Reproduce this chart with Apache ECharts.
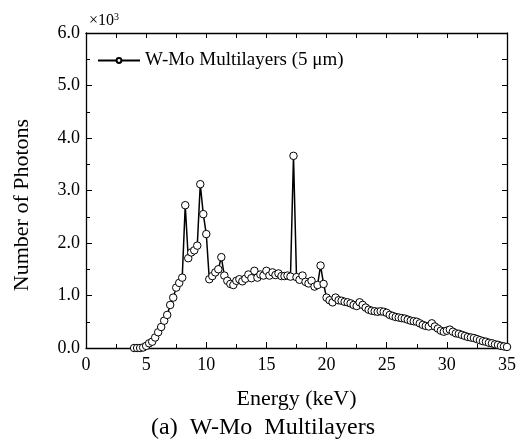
<!DOCTYPE html>
<html>
<head>
<meta charset="utf-8">
<script src="https://cdn.jsdelivr.net/npm/echarts@6/dist/echarts.min.js"></script>
<style>html,body{margin:0;padding:0;background:#fff}#c{width:526px;height:444px}</style>
</head>
<body>
<div id="c"></div>
<script>
// Energy grid (keV)
const energies = [4.0,4.25,4.5,4.75,5.0,5.25,5.5,5.75,6.0,6.25,6.5,6.75,7.0,7.25,7.5,7.75,8.0,8.25,8.5,8.75,9.0,9.25,9.5,9.75,10.0,10.25,10.5,10.75,11.0,11.25,11.5,11.75,12.0,12.25,12.5,12.75,13.0,13.25,13.5,13.75,14.0,14.25,14.5,14.75,15.0,15.25,15.5,15.75,16.0,16.25,16.5,16.75,17.0,17.25,17.5,17.75,18.0,18.25,18.5,18.75,19.0,19.25,19.5,19.75,20.0,20.25,20.5,20.75,21.0,21.25,21.5,21.75,22.0,22.25,22.5,22.75,23.0,23.25,23.5,23.75,24.0,24.25,24.5,24.75,25.0,25.25,25.5,25.75,26.0,26.25,26.5,26.75,27.0,27.25,27.5,27.75,28.0,28.25,28.5,28.75,29.0,29.25,29.5,29.75,30.0,30.25,30.5,30.75,31.0,31.25,31.5,31.75,32.0,32.25,32.5,32.75,33.0,33.25,33.5,33.75,34.0,34.25,34.5,34.75,35.0];
// Number of photons (x10^3)
const photons = [0.0,0.0,0.0,0.01,0.04,0.09,0.12,0.2,0.3,0.4,0.52,0.63,0.82,0.96,1.15,1.24,1.34,2.72,1.71,1.82,1.86,1.95,3.12,2.55,2.17,1.31,1.37,1.44,1.5,1.73,1.38,1.28,1.22,1.2,1.28,1.31,1.27,1.32,1.4,1.33,1.47,1.34,1.4,1.38,1.47,1.38,1.44,1.39,1.42,1.37,1.37,1.38,1.36,3.66,1.35,1.3,1.38,1.26,1.23,1.28,1.17,1.2,1.57,1.22,0.96,0.91,0.87,0.96,0.91,0.9,0.88,0.87,0.85,0.82,0.8,0.87,0.82,0.77,0.73,0.71,0.7,0.69,0.7,0.69,0.67,0.63,0.61,0.59,0.58,0.57,0.56,0.54,0.52,0.51,0.5,0.47,0.44,0.42,0.41,0.47,0.41,0.37,0.33,0.31,0.33,0.35,0.31,0.28,0.27,0.25,0.23,0.21,0.2,0.19,0.17,0.15,0.13,0.12,0.1,0.09,0.07,0.06,0.04,0.03,0.02];
const xTicks = [0,5,10,15,20,25,30,35];
const yTicks = [0,1,2,3,4,5,6];
const seriesName = 'W-Mo Multilayers (5 \u03bcm)';

const font = '"Liberation Serif", "Times New Roman", serif';
const chart = echarts.init(document.getElementById('c'), null, {renderer: 'canvas'});
const data = energies.map((e, i) => [e, photons[i]]);
const axisCommon = {
  axisLine: {show: true, onZero: false, lineStyle: {color: '#000', width: 1.3}},
  axisTick: {show: true, inside: true, length: 6, lineStyle: {color: '#000', width: 1}},
  minorTick: {show: true, splitNumber: 2, length: 4, lineStyle: {color: '#000', width: 1}},
  splitLine: {show: false}
};
chart.setOption({
  animation: false,
  backgroundColor: '#fff',
  title: [{
    text: '(a)  W-Mo  Multilayers',
    left: 'center', top: 411,
    textStyle: {fontFamily: font, fontSize: 24, fontWeight: 'normal', color: '#000'}
  }, {
    text: '\u00d710{s|3}',
    left: 84, top: 7,
    textStyle: {fontFamily: font, fontSize: 16, fontWeight: 'normal', color: '#000',
      rich: {s: {fontFamily: font, fontSize: 10, verticalAlign: 'top', padding: [0,0,8,0], color: '#000'}}}
  }],
  graphic: [{
    type: 'text', x: 22, y: 205, rotation: Math.PI / 2,
    style: {text: 'Number of Photons', fontFamily: font, fontSize: 22, fill: '#000',
      textAlign: 'center', textVerticalAlign: 'middle'}
  }],
  legend: {
    left: 92, top: 46,
    itemWidth: 42, itemHeight: 6, itemGap: 5,
    textStyle: {fontFamily: font, fontSize: 19, color: '#000'},
    data: [seriesName]
  },
  grid: {left: 86, right: 19, top: 33, bottom: 96, containLabel: false},
  xAxis: [Object.assign({
    type: 'value', min: xTicks[0], max: xTicks[xTicks.length-1], interval: 5,
    name: 'Energy (keV)', nameLocation: 'middle', nameGap: 40,
    nameTextStyle: {fontFamily: font, fontSize: 22, color: '#000'},
    axisLabel: {fontFamily: font, fontSize: 18, color: '#000', margin: 8}
  }, axisCommon), Object.assign({
    type: 'value', position: 'top', min: 0, max: 35, interval: 2.5,
    axisLabel: {show: false}
  }, axisCommon, {minorTick: {show: false}, axisTick: {show: true, inside: true, length: 5, lineStyle: {color: '#000', width: 1}}})],
  yAxis: [Object.assign({
    type: 'value', min: yTicks[0], max: yTicks[yTicks.length-1], interval: 1,
    axisLabel: {fontFamily: font, fontSize: 18, color: '#000', margin: 6, formatter: v => v.toFixed(1)}
  }, axisCommon), Object.assign({
    type: 'value', position: 'right', min: 0, max: 6, interval: 0.5,
    axisLabel: {show: false}
  }, axisCommon, {minorTick: {show: false}, axisTick: {show: true, inside: true, length: 5, lineStyle: {color: '#000', width: 1}}})],
  series: [{
    name: seriesName,
    type: 'line',
    xAxisIndex: 0, yAxisIndex: 0,
    data: data,
    symbol: 'circle', symbolSize: 7.5, showAllSymbol: true,
    lineStyle: {color: '#000', width: 1.5},
    itemStyle: {color: '#fff', borderColor: '#000', borderWidth: 1},
    z: 3
  }]
});
</script>
</body>
</html>
